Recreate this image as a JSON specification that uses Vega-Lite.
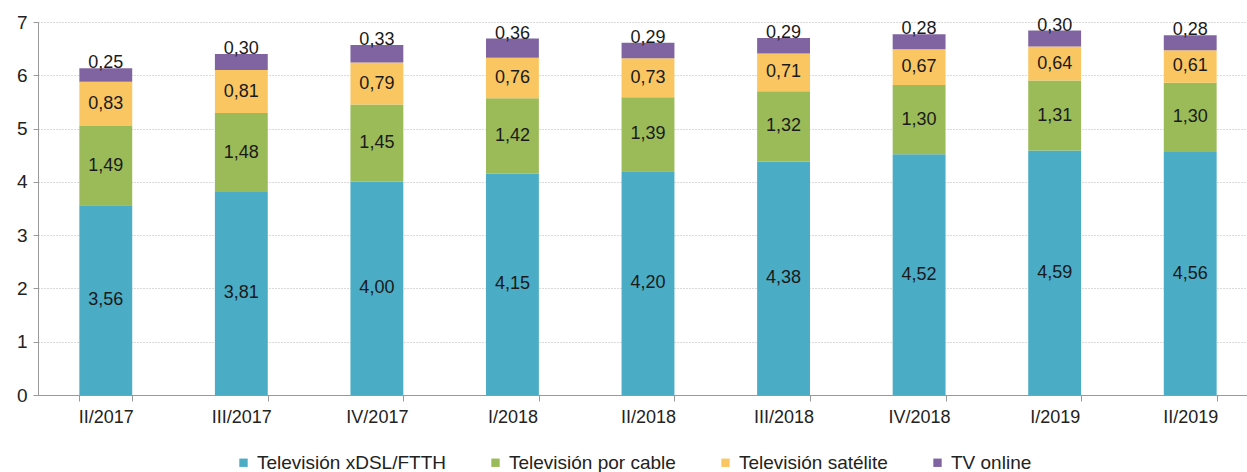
{
  "$schema": "https://vega.github.io/schema/vega-lite/v6.json",
  "autosize": {"type": "none"},
  "padding": {"left": 38, "top": 22, "right": 0, "bottom": 77},
  "width": 1220,
  "height": 373,
  "background": "white",
  "config": {
    "locale": {"number": {"decimal": ",", "thousands": ".", "grouping": [3], "currency": ["", " €"]}},
    "font": "Liberation Sans",
    "view": {"stroke": null}
  },
  "data": {
    "values": [
      {"q": "II/2017", "s": "Televisión xDSL/FTTH", "o": 1, "v": 3.56},
      {"q": "II/2017", "s": "Televisión por cable", "o": 2, "v": 1.49},
      {"q": "II/2017", "s": "Televisión satélite", "o": 3, "v": 0.83},
      {"q": "II/2017", "s": "TV online", "o": 4, "v": 0.25},
      {"q": "III/2017", "s": "Televisión xDSL/FTTH", "o": 1, "v": 3.81},
      {"q": "III/2017", "s": "Televisión por cable", "o": 2, "v": 1.48},
      {"q": "III/2017", "s": "Televisión satélite", "o": 3, "v": 0.81},
      {"q": "III/2017", "s": "TV online", "o": 4, "v": 0.30},
      {"q": "IV/2017", "s": "Televisión xDSL/FTTH", "o": 1, "v": 4.00},
      {"q": "IV/2017", "s": "Televisión por cable", "o": 2, "v": 1.45},
      {"q": "IV/2017", "s": "Televisión satélite", "o": 3, "v": 0.79},
      {"q": "IV/2017", "s": "TV online", "o": 4, "v": 0.33},
      {"q": "I/2018", "s": "Televisión xDSL/FTTH", "o": 1, "v": 4.15},
      {"q": "I/2018", "s": "Televisión por cable", "o": 2, "v": 1.42},
      {"q": "I/2018", "s": "Televisión satélite", "o": 3, "v": 0.76},
      {"q": "I/2018", "s": "TV online", "o": 4, "v": 0.36},
      {"q": "II/2018", "s": "Televisión xDSL/FTTH", "o": 1, "v": 4.20},
      {"q": "II/2018", "s": "Televisión por cable", "o": 2, "v": 1.39},
      {"q": "II/2018", "s": "Televisión satélite", "o": 3, "v": 0.73},
      {"q": "II/2018", "s": "TV online", "o": 4, "v": 0.29},
      {"q": "III/2018", "s": "Televisión xDSL/FTTH", "o": 1, "v": 4.38},
      {"q": "III/2018", "s": "Televisión por cable", "o": 2, "v": 1.32},
      {"q": "III/2018", "s": "Televisión satélite", "o": 3, "v": 0.71},
      {"q": "III/2018", "s": "TV online", "o": 4, "v": 0.29},
      {"q": "IV/2018", "s": "Televisión xDSL/FTTH", "o": 1, "v": 4.52},
      {"q": "IV/2018", "s": "Televisión por cable", "o": 2, "v": 1.30},
      {"q": "IV/2018", "s": "Televisión satélite", "o": 3, "v": 0.67},
      {"q": "IV/2018", "s": "TV online", "o": 4, "v": 0.28},
      {"q": "I/2019", "s": "Televisión xDSL/FTTH", "o": 1, "v": 4.59},
      {"q": "I/2019", "s": "Televisión por cable", "o": 2, "v": 1.31},
      {"q": "I/2019", "s": "Televisión satélite", "o": 3, "v": 0.64},
      {"q": "I/2019", "s": "TV online", "o": 4, "v": 0.30},
      {"q": "II/2019", "s": "Televisión xDSL/FTTH", "o": 1, "v": 4.56},
      {"q": "II/2019", "s": "Televisión por cable", "o": 2, "v": 1.30},
      {"q": "II/2019", "s": "Televisión satélite", "o": 3, "v": 0.61},
      {"q": "II/2019", "s": "TV online", "o": 4, "v": 0.28}
    ]
  },
  "transform": [
    {"stack": "v", "groupby": ["q"], "sort": [{"field": "o", "order": "ascending"}], "as": ["y0", "y1"]},
    {"calculate": "(datum.y0 + datum.y1) / 2", "as": "ym"}
  ],
  "encoding": {
    "x": {
      "field": "q", "type": "nominal", "sort": null,
      "scale": {"paddingInner": 0.61, "paddingOuter": 0.305},
      "axis": {
        "title": null, "labelAngle": 0, "labelFontSize": 18, "labelColor": "#222222",
        "labelPadding": 7,
        "domainColor": "#999999", "tickColor": "#999999", "tickSize": 6, "tickBand": "extent",
        "grid": false
      }
    }
  },
  "layer": [
    {
      "mark": {"type": "bar"},
      "encoding": {
        "y": {
          "field": "y0", "type": "quantitative",
          "scale": {"domain": [0, 7], "nice": false},
          "axis": {
            "title": null, "values": [0, 1, 2, 3, 4, 5, 6, 7], "format": "d", "labelFontSize": 19, "labelColor": "#222222",
            "labelPadding": 6, "domainColor": "#999999", "tickColor": "#999999", "tickSize": 5,
            "grid": true, "gridColor": "#b5b5b5", "gridDash": [1, 2], "gridWidth": 1
          }
        },
        "y2": {"field": "y1"},
        "color": {
          "field": "s", "type": "nominal",
          "sort": ["Televisión xDSL/FTTH", "Televisión por cable", "Televisión satélite", "TV online"],
          "scale": {
            "domain": ["Televisión xDSL/FTTH", "Televisión por cable", "Televisión satélite", "TV online"],
            "range": ["#4BACC6", "#9BBB59", "#F9C662", "#8064A2"]
          },
          "legend": {
            "title": null, "orient": "none", "legendX": 196, "legendY": 431, "direction": "horizontal",
            "symbolType": "square", "symbolSize": 70, "symbolStrokeWidth": 0,
            "labelFontSize": 19, "labelColor": "#222222", "labelLimit": 400,
            "columnPadding": 40, "labelOffset": 4
          }
        }
      }
    },
    {
      "transform": [{"filter": "datum.o < 4"}],
      "mark": {"type": "text", "fontSize": 18, "color": "#1a1a1a", "baseline": "middle"},
      "encoding": {
        "y": {"field": "ym", "type": "quantitative"},
        "text": {"field": "v", "type": "quantitative", "format": ".2f"}
      }
    },
    {
      "transform": [{"filter": "datum.o == 4"}],
      "mark": {"type": "text", "fontSize": 18, "color": "#1a1a1a", "baseline": "bottom", "dy": 4},
      "encoding": {
        "y": {"field": "y1", "type": "quantitative"},
        "text": {"field": "v", "type": "quantitative", "format": ".2f"}
      }
    }
  ]
}
